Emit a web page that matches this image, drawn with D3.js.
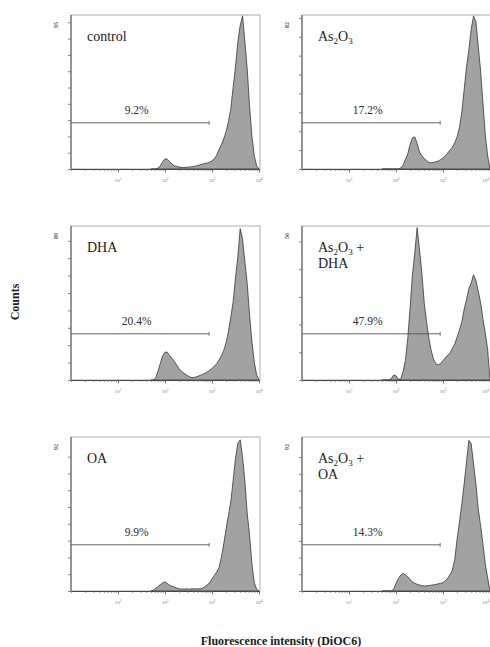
<!DOCTYPE html>
<html>
<head>
<meta charset="utf-8">
<script src="https://cdn.jsdelivr.net/npm/d3@7"></script>
<style>
  body { margin: 0; background: #fff; }
  svg text { font-family: "Liberation Serif", "Times New Roman", "DejaVu Serif", serif; }
</style>
</head>
<body>
<svg id="chart" width="490" height="647"></svg>
<script>
// histogram bins on log10 axis: 10^1.70, 10^1.75 ... 10^4.00
var binStart = 1.7, binStep = 0.05;

var control  = [0,0,0,0.5,2,4.5,6.3,6,4.5,3, 2,1.5,1.2,1,1,1,1.2,1.3,1.5,1.8, 2.2,2.6,3,3.4,3.7,4.3,5,6.3,8.5,12, 15,18.5,23,29,37,50,63,78,88,94, 78,61,38,20,8,2,0];
var as2o3    = [0,0,0,0,0,0,0,0,0.5,2, 5,8,13,16.5,17,13.5,9,7,5.5,4.5, 3.5,3.3,3.5,3.8,4.2,5,5.8,7,8.5,10, 11.5,14,17,22,30,42,54,63,74,81, 78,65,52,35,18,7,0];
var dha      = [0,0,1,5,9.5,14,16,16,14,12.4, 10.5,8.6,6.5,5,4,3,2.2,1.5,1.4,1.7, 2.1,2.7,3.3,3.9,4.6,5.6,6.6,8,9.4,11.5, 14,17,21.5,28,36,45,59,71,87,81, 68,55,37,22,10,3,0];
var as2o3Dha = [0,0,0,0,0.5,1.8,1.5,0.3,0.3,3, 7,15,26,38,46,55,47,38.7,28,21, 15,10.5,7.5,5.8,5.5,6,7,8,9,9.7, 11.5,13,15.5,18,21,25.5,29,33,35,38, 36,32,28,22,17,11,0];
var oa       = [0,0.5,1.5,2.6,3.8,4.8,5.5,4.5,3.4,2.8, 2.3,1.8,1.3,1.2,1.1,1.3,1.1,1.2,1.4,1.2, 1.3,1.3,1.8,2.6,3.6,5,7.2,9.3,11.3,14, 20,28,37,45,53,66,79,88,90,80, 65,46,33,16,5,1,0];
var as2o3Oa  = [0,0,0,0,0,1,4.5,7.5,9.5,10.5, 9.8,8.5,6.8,5.6,4.6,4,3.6,3.2,3,3.1, 3.3,3.5,3.7,3.9,4.3,4.6,5,6,7.6,9.8, 12.5,19,31,41,52,64,77,90,88,76, 64,49,39,28,16,8,0];

var series = [control, as2o3, dha, as2o3Dha, oa, as2o3Oa];
var panelNames = [["control"], ["As2O3"], ["DHA"], ["As2O3 +", "DHA"], ["OA"], ["As2O3 +", "OA"]];
var gatePct = ["9.2%", "17.2%", "20.4%", "47.9%", "9.9%", "14.3%"];
var gateHi = 870;                          // M1 marker upper bound
var yTop = [94.5, 81.5, 88.5, 55.6, 91.7, 92];   // full scale counts
var yTickMax = [90, 80, 80, 50, 80, 80];
var decades = [10, 100, 1000, 10000];
var decadeExp = ["1", "2", "3", "4"];

// layout
var W = 490;
var colX = [71, 302], rowY = [15, 226, 437];
var plotW = 188, boxW = 189, plotH = 154;
var gateFrac = 0.3;
var serif = "'Liberation Serif', 'Times New Roman', 'DejaVu Serif', serif";

var svg = d3.select("#chart");

// writes "As2O3" with subscript digits
function chemText(sel, str) {
  var n = 0;
  str.split(/(\d+)/).forEach(function (part) {
    if (part === "") return;
    var t = sel.append("tspan").text(part);
    if (/^\d+$/.test(part)) t.attr("font-size", 9).attr("dy", 3);
    else if (n > 0) t.attr("dy", -3);
    n++;
  });
}

var minorTicks = [];
[1, 10, 100, 1000].forEach(function (d) {
  for (var k = 1; k < 10; k++) minorTicks.push(d * k);
});
minorTicks.push(10000);

series.forEach(function (counts, i) {
  var x0 = colX[i % 2], y0 = rowY[Math.floor(i / 2)];
  var g = svg.append("g").attr("transform", "translate(" + x0 + "," + y0 + ")");

  var x = d3.scaleLog().domain([1, 1e4]).range([0, plotW]);
  var y = d3.scaleLinear().domain([0, yTop[i]]).range([plotH, 0]);

  // frame
  g.append("rect")
    .attr("width", boxW).attr("height", plotH)
    .attr("fill", "none").attr("stroke", "#9a9a9a").attr("stroke-width", 0.8);

  var data = counts.map(function (c, j) {
    return { v: Math.pow(10, binStart + j * binStep), c: c };
  });

  var area = d3.area()
    .x(function (d) { return x(d.v); })
    .y0(y(0))
    .y1(function (d) { return y(d.c); });

  g.append("path")
    .datum(data)
    .attr("d", area)
    .attr("fill", "#a2a2a2")
    .attr("stroke", "#2e2e2e")
    .attr("stroke-width", 0.75)
    .attr("stroke-linejoin", "round");

  // y axis
  var ya = g.append("g")
    .call(d3.axisLeft(y).tickValues(d3.range(0, yTickMax[i] + 1, 10))
      .tickSize(3).tickSizeOuter(0).tickFormat(""));
  ya.select(".domain").attr("stroke", "#555").attr("d", "M0," + plotH + "V0");
  ya.selectAll(".tick line").attr("stroke", "#666").attr("stroke-width", 0.8);

  g.append("text")
    .attr("transform", "translate(-13," + (y(yTop[i]) + 10) + ") rotate(-90)")
    .attr("text-anchor", "middle")
    .attr("font-family", serif)
    .attr("font-size", 6).attr("font-weight", "bold").attr("fill", "#555")
    .text(Math.round(yTop[i]));

  // x axis: minor + decade ticks
  var xm = g.append("g").attr("transform", "translate(0," + plotH + ")")
    .call(d3.axisBottom(x).tickValues(minorTicks).tickSize(2).tickSizeOuter(0).tickFormat(""));
  xm.select(".domain").attr("stroke", "#444");
  xm.selectAll(".tick line").attr("stroke", "#666").attr("stroke-width", 0.7);

  var xd = g.append("g").attr("transform", "translate(0," + plotH + ")")
    .call(d3.axisBottom(x).tickValues(decades).tickSize(3.5).tickFormat(""));
  xd.select(".domain").remove();
  xd.selectAll(".tick line").attr("stroke", "#555").attr("stroke-width", 0.8);

  decades.forEach(function (d, k) {
    var lx = x(d), anchor = "middle";
    // keep the last label inside the page on the right-hand column
    if (x0 + lx + 5 > W) { lx = W - 1 - x0; anchor = "end"; }
    var t = g.append("text")
      .attr("x", lx).attr("y", plotH + 13)
      .attr("text-anchor", anchor)
      .attr("font-family", serif)
      .attr("font-size", 5).attr("fill", "#777");
    t.append("tspan").text("10");
    t.append("tspan").attr("font-size", 3.5).attr("dy", -2).text(decadeExp[k]);
  });

  // gate marker
  var gy = plotH * (1 - gateFrac);
  g.append("line")
    .attr("x1", 0).attr("x2", x(gateHi)).attr("y1", gy).attr("y2", gy)
    .attr("stroke", "#555").attr("stroke-width", 0.9);
  g.append("line")
    .attr("x1", x(gateHi)).attr("x2", x(gateHi)).attr("y1", gy - 2).attr("y2", gy + 2)
    .attr("stroke", "#555").attr("stroke-width", 0.8);

  g.append("text")
    .attr("x", x(25)).attr("y", gy - 9)
    .attr("text-anchor", "middle")
    .attr("font-family", serif)
    .attr("font-size", 11.5).attr("fill", "#2a2a2a")
    .text(gatePct[i]);

  // panel name
  panelNames[i].forEach(function (line, k) {
    var t = g.append("text")
      .attr("x", 16).attr("y", 26 + k * 16)
      .attr("font-family", serif)
      .attr("font-size", 14).attr("fill", "#1a1a1a");
    chemText(t, line);
  });
});

svg.append("text")
  .attr("transform", "translate(19,302) rotate(-90)")
  .attr("text-anchor", "middle")
  .attr("font-family", serif)
  .attr("font-size", 12).attr("font-weight", "bold").attr("fill", "#1a1a1a")
  .text("Counts");

svg.append("text")
  .attr("x", 281).attr("y", 645)
  .attr("text-anchor", "middle")
  .attr("font-family", serif)
  .attr("font-size", 12).attr("font-weight", "bold").attr("fill", "#1a1a1a")
  .text("Fluorescence intensity (DiOC6)");
</script>
</body>
</html>
